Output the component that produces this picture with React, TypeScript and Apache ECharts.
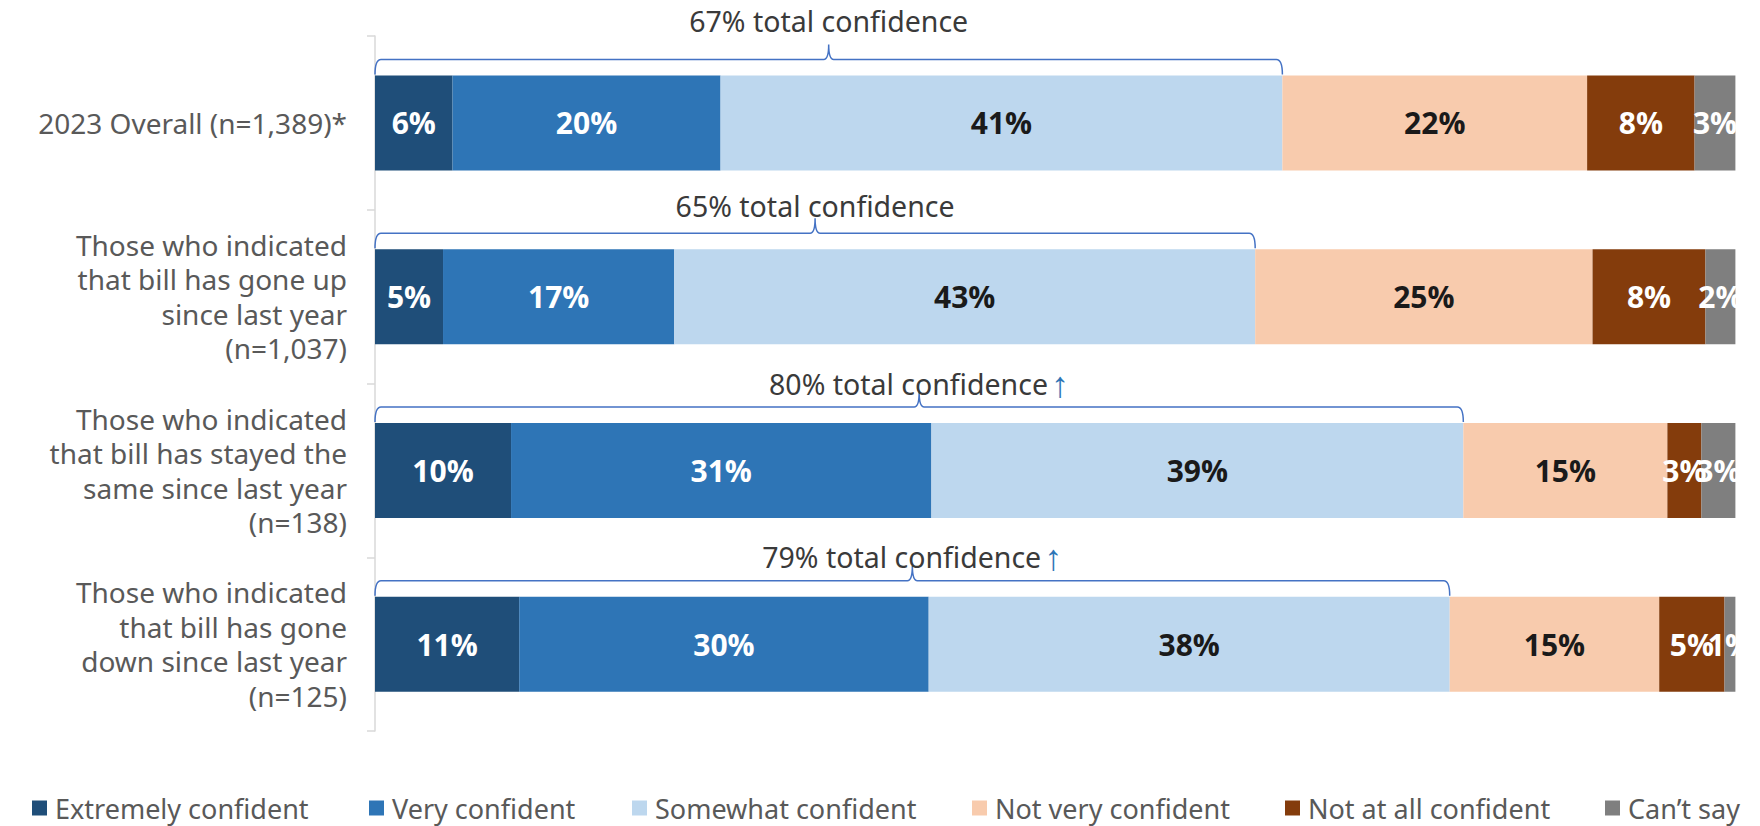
import React, { useEffect, useRef } from "react";
import * as echarts from "echarts";

const categories = [
  "2023 Overall (n=1,389)*",
  "Those who indicated\nthat bill has gone up\nsince last year\n(n=1,037)",
  "Those who indicated\nthat bill has stayed the\nsame since last year\n(n=138)",
  "Those who indicated\nthat bill has gone\ndown since last year\n(n=125)",
];

const seriesNames = [
  "Extremely confident",
  "Very confident",
  "Somewhat confident",
  "Not very confident",
  "Not at all confident",
  "Can\u2019t say",
];

const extremelyConfident = [5.7, 5.0, 10.0, 10.6];
const veryConfident = [19.7, 17.0, 30.9, 30.1];
const somewhatConfident = [41.3, 42.7, 39.1, 38.3];
const notVeryConfident = [22.4, 24.8, 15.0, 15.4];
const notAtAllConfident = [7.9, 8.3, 2.5, 4.8];
const cantSay = [3.0, 2.2, 2.5, 0.8];

const significantlyHigher = [false, false, true, true];

// layout / style constants
const COLORS = ["#1F4E79", "#2E75B6", "#BDD7EE", "#F8CBAD", "#843C0C", "#7F7F7F"];
const LABEL_COLORS = ["#ffffff", "#ffffff", "#1a1a1a", "#1a1a1a", "#ffffff", "#ffffff"];
const LEGEND_LEFT = [32, 369, 632, 972, 1285, 1605];
const BRACE_LABEL_LIFT = [54, 43, 39, 40];
const BAR_W = 95;
const FONT = "'Noto Sans', 'Open Sans', sans-serif";

export default function App() {
  const ref = useRef<HTMLDivElement>(null);

  useEffect(() => {
    if (!ref.current) return;
    const chart = echarts.init(ref.current, null, { renderer: "svg" });
    const allSeries = [
      extremelyConfident,
      veryConfident,
      somewhatConfident,
      notVeryConfident,
      notAtAllConfident,
      cantSay,
    ];
    const totals = categories.map(
      (_, i) => extremelyConfident[i] + veryConfident[i] + somewhatConfident[i]
    );

    const barSeries = allSeries.map((vals, si) => ({
      type: "bar",
      name: seriesNames[si],
      stack: "total",
      barWidth: BAR_W,
      data: vals,
      itemStyle: { color: COLORS[si] },
      label: {
        show: true,
        position: "inside",
        formatter: (p: any) => `${Math.round(p.value)}%`,
        color: LABEL_COLORS[si],
        fontFamily: "'Open Sans', sans-serif",
        fontWeight: "bold",
        fontSize: 30,
        textBorderWidth: 0,
      },
      emphasis: { disabled: true },
      silent: true,
    }));

    const braceSeries = {
      type: "custom",
      coordinateSystem: "cartesian2d",
      encode: { x: 1, y: 0 },
      data: categories.map((_, i) => [i, totals[i]]),
      z: 10,
      silent: true,
      clip: false,
      renderItem: (params: any, api: any) => {
        const idx = api.value(0);
        const total = api.value(1);
        const p0 = api.coord([0, idx]);
        const p1 = api.coord([total, idx]);
        const top = p0[1] - BAR_W / 2;
        const x0 = p0[0];
        const x1 = p1[0];
        const mid = (x0 + x1) / 2;
        const yl = top - 16;
        const yp = top - 31;
        const yb = top - 1;
        const d =
          `M${x0},${yb} Q${x0},${yl} ${x0 + 6},${yl} L${mid - 5},${yl} ` +
          `Q${mid},${yl} ${mid},${yp} Q${mid},${yl} ${mid + 5},${yl} ` +
          `L${x1 - 6},${yl} Q${x1},${yl} ${x1},${yb}`;
        const txt =
          `{t|${Math.round(total)}% total confidence}` +
          (significantlyHigher[idx] ? ` {a|\u2191}` : "");
        return {
          type: "group",
          children: [
            {
              type: "path",
              shape: { pathData: d },
              style: { fill: "none", stroke: "#4472C4", lineWidth: 1.5 },
            },
            {
              type: "text",
              x: mid,
              y: top - BRACE_LABEL_LIFT[idx],
              style: {
                text: txt,
                align: "center",
                verticalAlign: "middle",
                rich: {
                  t: { fontSize: 28.5, fontFamily: FONT, fill: "#3a3a3a", color: "#3a3a3a" },
                  a: { fontSize: 36, fontFamily: FONT, fill: "#2E75B6", color: "#2E75B6" },
                },
              },
            },
          ],
        };
      },
    };

    const legends = seriesNames.map((name, i) => ({
      data: [name],
      left: LEGEND_LEFT[i],
      top: 794,
      icon: "rect",
      itemWidth: 15,
      itemHeight: 15,
      itemGap: 0,
      padding: 0,
      selectedMode: false,
      textStyle: {
        fontSize: 27,
        lineHeight: 28,
        color: "#595959",
        fontFamily: FONT,
        padding: [0, 0, 0, 3],
      },
    }));

    chart.setOption({
      animation: false,
      backgroundColor: "#ffffff",
      grid: { left: 375, right: 24.6, top: 36, bottom: 95, containLabel: false },
      legend: legends,
      xAxis: { type: "value", min: 0, max: 100, show: false },
      yAxis: {
        type: "category",
        data: categories,
        inverse: true,
        axisLine: { show: true, lineStyle: { color: "#D9D9D9", width: 1.5 } },
        axisTick: { show: true, length: 8, lineStyle: { color: "#D9D9D9", width: 1.5 } },
        axisLabel: {
          fontSize: 28,
          lineHeight: 34.5,
          color: "#595959",
          fontFamily: FONT,
          margin: 28,
          align: "right",
        },
      },
      series: [...barSeries, braceSeries],
    });

    return () => chart.dispose();
  }, []);

  return (
    <div
      ref={ref}
      style={{ position: "fixed", left: 0, top: 0, width: 1760, height: 826, background: "#fff" }}
    />
  );
}
